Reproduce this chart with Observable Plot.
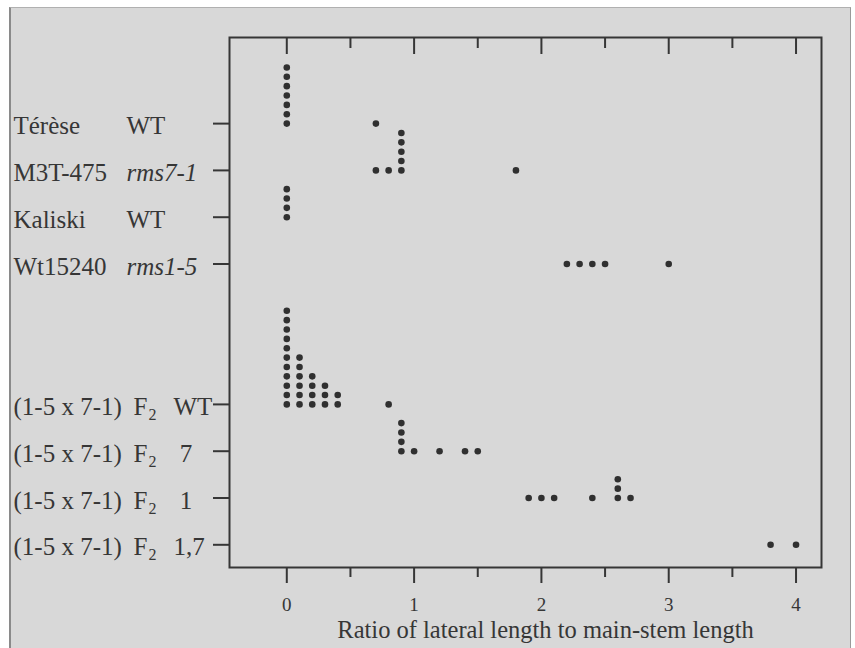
<!DOCTYPE html>
<html><head><meta charset="utf-8">
<script src="https://cdn.jsdelivr.net/npm/d3@7"></script>
<script src="https://cdn.jsdelivr.net/npm/@observablehq/plot@0.6"></script>
<style>
html,body{margin:0;padding:0;background:#fff;}
#panel{position:absolute;left:9px;top:7px;width:839px;height:645px;background:#d8d8d8;border-left:2px solid #8a8a8a;border-top:1px solid #b0b0b0;border-right:1px solid #9a9a9a;}
#chart{position:absolute;left:0;top:0;}
#topticks{position:absolute;left:0;top:0;z-index:3;pointer-events:none;}
</style></head><body><div id="panel"></div><div id="chart"></div><div id="topticks"></div>
<script>
// Row names (top to bottom); null = empty spacer row
const lines = ["Térèse", "M3T-475", "Kaliski", "Wt15240", null, null,
  "(1-5 x 7-1)", "(1-5 x 7-1)", "(1-5 x 7-1)", "(1-5 x 7-1)"];
const genotypes = ["WT", "rms7-1", "WT", "rms1-5", null, null, "WT", "7", "1", "1,7"];
const generations = [null, null, null, null, null, null, "2", "2", "2", "2"];

// Ratio of lateral length to main-stem length, one value per plant
const terese  = [0, 0, 0, 0, 0, 0, 0, 0.7];
const m3t475  = [0.7, 0.8, 0.9, 0.9, 0.9, 0.9, 0.9, 1.8];
const kaliski = [0, 0, 0, 0];
const wt15240 = [2.2, 2.3, 2.4, 2.5, 3.0];
const f2WT    = [0,0,0,0,0,0,0,0,0,0,0, 0.1,0.1,0.1,0.1,0.1,0.1, 0.2,0.2,0.2,0.2, 0.3,0.3,0.3, 0.4,0.4, 0.8];
const f2_7    = [0.9, 0.9, 0.9, 0.9, 1.0, 1.2, 1.4, 1.5];
const f2_1    = [1.9, 2.0, 2.1, 2.4, 2.6, 2.6, 2.6, 2.7];
const f2_17   = [3.8, 4.0];
const values = [terese, m3t475, kaliski, wt15240, [], [], f2WT, f2_7, f2_1, f2_17];

const xMajor = [0, 1, 2, 3, 4];
const xMinor = [0.5, 1.5, 2.5, 3.5];
const xTitle = "Ratio of lateral length to main-stem length";

// Build tables
const n = lines.length;
const rowsT = lines.map((line, i) => ({line, genotype: genotypes[i], generation: generations[i], pos: n - 1 - i}))
  .filter(d => d.line !== null);
const dots = [];
values.forEach((vals, i) => {
  const count = new Map();
  for (const v of vals) {
    const k = count.get(v) || 0;
    count.set(v, k + 1);
    dots.push({value: v, pos: n - 1 - i, level: k});
  }
});
const parental = rowsT.filter(d => !d.generation);
const crosses = rowsT.filter(d => d.generation);

const ink = "#363636";
const xDomain = [-0.45, 4.2];
const yDomain = [-0.485, 10.84];
const pxPerRow = 46.78; // pixels per row unit, used to size the inward top ticks
const yTop = yDomain[1];
const layout = {width: 855, height: 648, marginLeft: 229, marginRight: 34, marginTop: 37, marginBottom: 81};

const plot = Plot.plot({
  ...layout,
  x: {domain: xDomain},
  y: {domain: yDomain},
  style: {fontFamily: "'Liberation Serif', 'Times New Roman', serif", background: "transparent", color: ink},
  marks: [
    Plot.frame({stroke: ink, strokeWidth: 2}),
    Plot.axisX(xMajor, {tickSize: 16, tickPadding: 14, fontSize: 19, strokeWidth: 2, label: null, tickFormat: d => String(d)}),
    Plot.axisX(xMinor, {tickSize: 10, tickFormat: () => "", strokeWidth: 2, label: null}),
    Plot.axisY(rowsT.map(d => d.pos), {tickSize: 16, tickFormat: () => "", strokeWidth: 2, label: null}),
    // row labels
    Plot.text(rowsT, {y: "pos", text: "line", frameAnchor: "left", dx: -216, dy: 2.5, textAnchor: "start", fontSize: 25, fill: ink}),
    Plot.text(parental.filter(d => !d.genotype.startsWith("rms")), {y: "pos", text: "genotype", frameAnchor: "left", dx: -103, dy: 2.5, textAnchor: "start", fontSize: 25, fill: ink}),
    Plot.text(parental.filter(d => d.genotype.startsWith("rms")), {y: "pos", text: "genotype", frameAnchor: "left", dx: -103, dy: 2.5, textAnchor: "start", fontSize: 25, fontStyle: "italic", fill: ink}),
    Plot.text(crosses, {y: "pos", text: () => "F", frameAnchor: "left", dx: -96, dy: 2.5, textAnchor: "start", fontSize: 25, fill: ink}),
    Plot.text(crosses, {y: "pos", text: "generation", frameAnchor: "left", dx: -81, dy: 10.5, textAnchor: "start", fontSize: 16, fill: ink}),
    Plot.text(crosses, {y: "pos", text: d => d.genotype.length === 1 ? "\u00a0" + d.genotype : d.genotype, frameAnchor: "left", dx: -56, dy: 2.5, textAnchor: "start", fontSize: 25, fill: ink}),
    // dots
    Plot.dot(dots, {x: "value", y: d => d.pos + d.level * 0.2, r: 3.3, fill: "#303030", stroke: null}),
    Plot.text([xTitle], {text: d => d, frameAnchor: "bottom", lineAnchor: "bottom", dy: 70, dx: 20, fontSize: 24.5, fill: ink})
  ]
});
document.getElementById("chart").append(plot);

// inward ticks on the top edge, in an overlay plot sharing the same scales
const topPlot = Plot.plot({
  ...layout,
  x: {domain: xDomain, axis: null},
  y: {domain: yDomain, axis: null},
  style: {background: "transparent", color: ink},
  marks: [
    Plot.ruleX(xMajor, {x: d => d, y1: () => yTop, y2: () => yTop - 17 / pxPerRow, stroke: ink, strokeWidth: 2}),
    Plot.ruleX(xMinor, {x: d => d, y1: () => yTop, y2: () => yTop - 11 / pxPerRow, stroke: ink, strokeWidth: 2})
  ]
});
document.getElementById("topticks").append(topPlot);
</script></body></html>
